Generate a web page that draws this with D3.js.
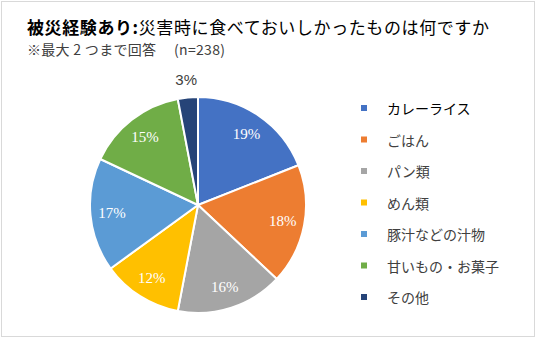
<!DOCTYPE html>
<html><head><meta charset="utf-8">
<script src="https://cdn.jsdelivr.net/npm/d3@7"></script>
<style>
html,body{margin:0;padding:0;background:#fff;}
svg{display:block;}
</style></head>
<body>
<script>
const categories = ["カレーライス","ごはん","パン類","めん類","豚汁などの汁物","甘いもの・お菓子","その他"];
const values = [19,18,16,12,17,15,3];
const labels = ["19%","18%","16%","12%","17%","15%","3%"];
const colors = ["#4472C4","#ED7D31","#A5A5A5","#FFC000","#5B9BD5","#70AD47","#264478"];

const W = 537, H = 339;
const svg = d3.select("body").append("svg").attr("width", W).attr("height", H);
svg.append("rect").attr("x",1.5).attr("y",1.5).attr("width",W-4).attr("height",H-4)
  .attr("fill","#fff").attr("stroke","#d9d9d9").attr("stroke-width",1);

const jp = "'Noto Sans CJK JP','Noto Sans',sans-serif";
const title = svg.append("text").attr("x",27).attr("y",34)
  .attr("font-family",jp).attr("font-size",17).attr("letter-spacing",0.6).attr("fill","#000");
title.append("tspan").attr("font-weight","bold").text("被災経験あり");
title.append("tspan").attr("font-weight","bold").text(":");
title.append("tspan").text("災害時に食べておいしかったものは何ですか");
svg.append("text").attr("x",27).attr("y",55)
  .attr("font-family",jp).attr("font-size",14).attr("letter-spacing",0.3).attr("fill","#404040")
  .attr("xml:space","preserve")
  .text("※最大 2 つまで回答　 (n=238)");

const cx = 198, cy = 205, r = 108;
const pie = d3.pie().sort(null).value(d => d);
const arcs = pie(values);
const arc = d3.arc().innerRadius(0).outerRadius(r);
const labelArc = d3.arc().innerRadius(r*0.6).outerRadius(r);
const g = svg.append("g").attr("transform",`translate(${cx},${cy})`);
g.selectAll("path").data(arcs).join("path")
  .attr("d", arc).attr("fill",(d,i)=>colors[i])
  .attr("stroke","#fff").attr("stroke-width",2).attr("stroke-linejoin","round");

g.selectAll("text.lbl").data(arcs).join("text").attr("class","lbl")
  .each(function(d,i){
    const t = d3.select(this);
    if (i === values.length-1) {
      const a = (d.startAngle+d.endAngle)/2;
      const rr = r + 18;
      t.attr("x", Math.sin(a)*rr).attr("y", -Math.cos(a)*rr)
       .attr("fill","#404040").attr("font-family","'Liberation Sans',Arial,sans-serif")
       .attr("font-size",15);
    } else {
      const c = labelArc.centroid(d);
      t.attr("x", c[0]).attr("y", c[1])
       .attr("fill","#fff").attr("font-family","'Liberation Serif','Times New Roman',serif")
       .attr("font-size",15);
    }
  })
  .attr("text-anchor","middle").attr("dominant-baseline","central")
  .text((d,i)=>labels[i]);

const leg = svg.append("g");
const rowY = d3.scalePoint().domain(categories).range([108, 297]);
categories.forEach((c,i)=>{
  const y = rowY(c);
  leg.append("rect").attr("x",361).attr("y",y-3).attr("width",6).attr("height",6).attr("fill",colors[i]);
  leg.append("text").attr("x",387).attr("y",y).attr("dominant-baseline","central")
    .attr("font-family",jp).attr("font-size",14)
    .attr("fill", i===0 ? "#000" : "#404040").text(c);
});
</script>
</body></html>
